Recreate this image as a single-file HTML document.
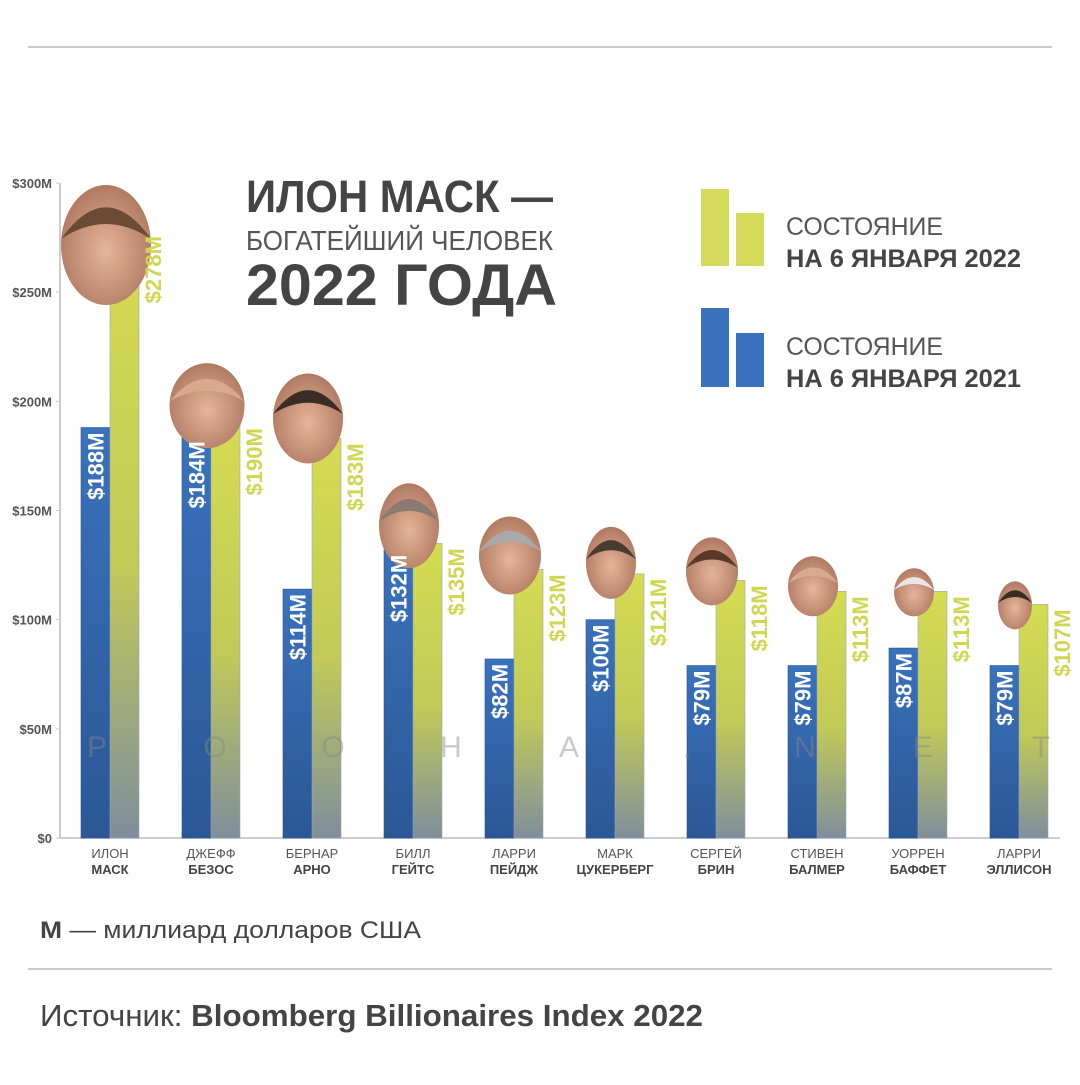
<!DOCTYPE html>
<html><head><meta charset="utf-8"><style>
body{margin:0;background:#fff;}
svg text{font-family:"Liberation Sans",sans-serif;}
</style></head><body>
<svg width="1080" height="1080" viewBox="0 0 1080 1080" xmlns="http://www.w3.org/2000/svg" id="svg">
<defs>
<linearGradient id="gG" x1="0" y1="0" x2="0" y2="1"><stop offset="0" stop-color="#d4dc52"/><stop offset="0.55" stop-color="#c2ca58"/><stop offset="1" stop-color="#7f8e9c"/></linearGradient>
<linearGradient id="gB" x1="0" y1="0" x2="0" y2="1"><stop offset="0" stop-color="#3a72bd"/><stop offset="1" stop-color="#2b5796"/></linearGradient>
<radialGradient id="skin" cx="0.5" cy="0.55" r="0.55"><stop offset="0" stop-color="#e6b59a"/><stop offset="1" stop-color="#b07a62"/></radialGradient>
</defs>
<line x1="28" y1="47" x2="1052" y2="47" stroke="#ccc" stroke-width="2"/>
<line x1="28" y1="969" x2="1052" y2="969" stroke="#ccc" stroke-width="2"/>
<g id="axis"></g>
<g id="bars"></g>
<g id="faces"></g>
<g id="labels"></g>
<g fill="#444">
<text x="246" y="212" font-size="45" font-weight="bold" textLength="307" lengthAdjust="spacingAndGlyphs">ИЛОН МАСК —</text>
<text x="246" y="250" font-size="28" fill="#555" textLength="307" lengthAdjust="spacingAndGlyphs">БОГАТЕЙШИЙ ЧЕЛОВЕК</text>
<text x="246" y="305" font-size="58" font-weight="bold" textLength="311" lengthAdjust="spacingAndGlyphs">2022 ГОДА</text>
</g>
<g>
<rect x="701" y="189" width="28" height="77" fill="#d4db5c"/>
<rect x="736" y="213" width="28" height="53" fill="#d4db5c"/>
<text x="786" y="235" font-size="25" fill="#555" textLength="157" lengthAdjust="spacingAndGlyphs">СОСТОЯНИЕ</text>
<text x="786" y="267" font-size="25" font-weight="bold" fill="#444" textLength="235" lengthAdjust="spacingAndGlyphs">НА 6 ЯНВАРЯ 2022</text>
</g>
<g>
<rect x="701" y="308" width="28" height="79" fill="#3a72bd"/>
<rect x="736" y="333" width="28" height="54" fill="#3a72bd"/>
<text x="786" y="355" font-size="25" fill="#555" textLength="157" lengthAdjust="spacingAndGlyphs">СОСТОЯНИЕ</text>
<text x="786" y="387" font-size="25" font-weight="bold" fill="#444" textLength="235" lengthAdjust="spacingAndGlyphs">НА 6 ЯНВАРЯ 2021</text>
</g>
<text x="40" y="938" font-size="24" fill="#444" textLength="381" lengthAdjust="spacingAndGlyphs"><tspan font-weight="bold">М</tspan> — миллиард долларов США</text>
<text x="40" y="1026" font-size="31" fill="#444" textLength="663" lengthAdjust="spacingAndGlyphs">Источник: <tspan font-weight="bold">Bloomberg Billionaires Index 2022</tspan></text>
</svg>
<script>
const firstNames=["ИЛОН","ДЖЕФФ","БЕРНАР","БИЛЛ","ЛАРРИ","МАРК","СЕРГЕЙ","СТИВЕН","УОРРЕН","ЛАРРИ"];
const lastNames=["МАСК","БЕЗОС","АРНО","ГЕЙТС","ПЕЙДЖ","ЦУКЕРБЕРГ","БРИН","БАЛМЕР","БАФФЕТ","ЭЛЛИСОН"];
const values2021=[188,184,114,132,82,100,79,79,87,79];
const values2022=[278,190,183,135,123,121,118,113,113,107];
const yTicks=[0,50,100,150,200,250,300];
const yTickLabels=["$0","$50M","$100M","$150M","$200M","$250M","$300M"];
const watermark=["P","O","O","H","A",".","N","E","T"];

const NS="http://www.w3.org/2000/svg";
const y0=838,y300=183;
const y=v=>y0-(v/300)*(y0-y300);
const x=i=>81+i*101;
const BW=29;
function mk(tag,attrs,parent,txt){const e=document.createElementNS(NS,tag);for(const k in attrs)e.setAttribute(k,attrs[k]);if(txt!==undefined)e.textContent=txt;parent.appendChild(e);return e;}
const axis=document.getElementById('axis'),bars=document.getElementById('bars'),faces=document.getElementById('faces'),labels=document.getElementById('labels');
let l=mk('line',{x1:60,y1:y300,x2:60,y2:y0,stroke:'#ccc','stroke-width':2},axis);


l=mk('line',{x1:60,y1:y0,x2:1060,y2:y0,stroke:'#ccc','stroke-width':2},axis);


yTicks.forEach((t,k)=>{
  const tx=mk('text',{x:52,y:y(t)+5,'font-size':13,'font-weight':'bold',fill:'#555','text-anchor':'end'},axis,yTickLabels[k]);
  
  
  mk('line',{x1:56,y1:y(t),x2:60,y2:y(t),stroke:'#ccc'},axis);
});
const faceW=[90,75,70,60,62,50,52,50,40,34];
const faceH=[120,85,90,85,78,72,68,60,48,48];
const faceCol=["#6b4a36","#d8a98c","#3a2d28","#8a7a70","#a9a9a9","#4a3a30","#5a3a26","#d8a98c","#e8e8e8","#3a2d28"];
firstNames.forEach((n,i)=>{
  const bx=x(i);
  const b=mk('rect',{x:bx,y:y(values2021[i]),width:BW,height:y0-y(values2021[i]),fill:'url(#gB)',stroke:'#2a5290','stroke-width':0.6},bars);
  
  
  const g=mk('rect',{x:bx+BW,y:y(values2022[i]),width:BW,height:y0-y(values2022[i]),fill:'url(#gG)',stroke:'#9aa7b5','stroke-width':0.6},bars);
  
  
  const fw=faceW[i],fh=faceH[i];
  const cx=bx+BW-4, bottom=i===0?305:y(values2022[i])+25;
  const fg=mk('g',{},faces);
  
  
  mk('ellipse',{cx:cx,cy:bottom-fh/2,rx:fw/2,ry:fh/2,fill:'url(#skin)'},fg);
  mk('path',{d:`M${cx-fw/2} ${bottom-fh*0.55} Q${cx} ${bottom-fh*1.08} ${cx+fw/2} ${bottom-fh*0.55} Q${cx} ${bottom-fh*0.8} ${cx-fw/2} ${bottom-fh*0.55}Z`,fill:faceCol[i]},fg);
  const t1=mk('text',{transform:`translate(${bx+BW/2+8},${y(values2021[i])+5}) rotate(-90)`,'font-size':22,'font-weight':'bold',fill:'#fff','text-anchor':'end'},labels,'$'+values2021[i]+'M');
  
  
  const t2=mk('text',{transform:`translate(${bx+2*BW+22},${y(values2022[i])+5}) rotate(-90)`,'font-size':22,'font-weight':'bold',fill:'#cfd752','text-anchor':'end'},labels,'$'+values2022[i]+'M');
  
  
  const cxl=bx+BW;
  const f=mk('text',{x:cxl,y:858,'font-size':13,fill:'#555','text-anchor':'middle'},labels,n);
  
  
  const s=mk('text',{x:cxl,y:874,'font-size':13,'font-weight':'bold',fill:'#444','text-anchor':'middle'},labels,lastNames[i]);
  
  
});
watermark.forEach((c,k)=>{
  const w=mk('text',{x:97+k*118,y:757,'font-size':30,fill:'#888','fill-opacity':0.45,'text-anchor':'middle'},labels,c);
  
  
});
</script>
</body></html>
